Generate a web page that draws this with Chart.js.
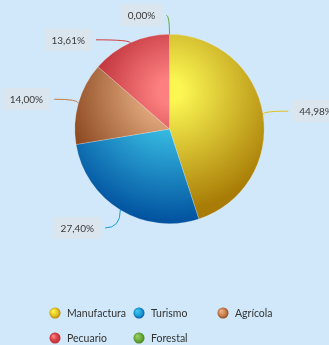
<!DOCTYPE html>
<html>
<head>
<meta charset="utf-8">
<script src="https://cdn.jsdelivr.net/npm/chart.js@4"></script>
<style>
  html, body { margin: 0; padding: 0; background: #d0e8f9; }
  canvas { display: block; }
</style>
</head>
<body>
<canvas id="chart" width="329" height="345"></canvas>
<script>
// data
const sectors = ['Manufactura', 'Turismo', 'Agrícola', 'Pecuario', 'Forestal'];
const shares = [44.98, 27.40, 14.00, 13.61, 0.00];

// colours: light (centre), dark (rim), flat (legend / leader)
const lightColors = ['#fbf652', '#3ec8ea', '#eab286', '#fd8080', '#9ad060'];
const darkColors = ['#a87c06', '#00509e', '#86421a', '#b82a34', '#3f7e22'];
const flatColors = ['#e3c21e', '#1b9ad6', '#c67c4a', '#d23c40', '#6aa83a'];
// where each slice's gradient holds its light / reaches its dark tone
const shadeStops = [[0.08, 0.9], [0.2, 1.0], [0.15, 0.85], [0.1, 0.65], [0.15, 1.0]];

// label callout offsets from the slice rim (px)
const calloutOffsets = [[53, -3], [-43, 18], [-52, -4], [-62, -3], [-28, -19]];

const FONT = '"Lato", "Open Sans", sans-serif';

function sliceGradient(context) {
  const chart = context.chart;
  const area = chart.chartArea;
  if (!area) return flatColors[context.dataIndex];
  const cx = (area.left + area.right) / 2 + 2;
  const cy = (area.top + area.bottom) / 2 - 38;
  const r = Math.min(area.right - area.left, area.bottom - area.top) / 2;
  const g = chart.ctx.createRadialGradient(cx, cy, 0, cx, cy, r * 1.4);
  const i = context.dataIndex;
  g.addColorStop(0, lightColors[i]);
  g.addColorStop(shadeStops[i][0], lightColors[i]);
  g.addColorStop(shadeStops[i][1], darkColors[i]);
  g.addColorStop(1, darkColors[i]);
  return g;
}

const callouts = {
  id: 'callouts',
  afterDatasetsDraw(chart) {
    const ctx = chart.ctx;
    const meta = chart.getDatasetMeta(0);
    ctx.save();
    ctx.font = '10px ' + FONT;
    meta.data.forEach((arc, i) => {
      const p = arc.getProps(['x', 'y', 'startAngle', 'endAngle', 'outerRadius'], true);
      const mid = (p.startAngle + p.endAngle) / 2;
      const ex = p.x + Math.cos(mid) * p.outerRadius;
      const ey = p.y + Math.sin(mid) * p.outerRadius;
      const tx = ex + calloutOffsets[i][0];
      const ty = ey + calloutOffsets[i][1];
      const text = shares[i].toFixed(2).replace('.', ',') + '%';
      const w = ctx.measureText(text).width + 14;
      const h = 22;
      const bx = tx - w / 2;
      const by = ty - h / 2;

      // leader
      const lx = tx > ex ? bx - 4 : bx + w + 4;
      ctx.strokeStyle = flatColors[i];
      ctx.lineWidth = 1;
      ctx.beginPath();
      ctx.moveTo(ex, ey);
      ctx.quadraticCurveTo(ex, ty, lx, ty);
      ctx.stroke();

      // box
      ctx.fillStyle = '#dbe5ee';
      ctx.fillRect(bx, by, w, h);
      ctx.fillStyle = '#3a3a3a';
      ctx.textAlign = 'center';
      ctx.textBaseline = 'middle';
      ctx.fillText(text, tx, ty + 0.5);
    });
    ctx.restore();
  }
};

const gridLegend = {
  id: 'gridLegend',
  afterDraw(chart) {
    const ctx = chart.ctx;
    const cols = 3, colW = 84, rowH = 25, left = 55, top = 313;
    ctx.save();
    ctx.font = '10.5px ' + FONT;
    ctx.textAlign = 'left';
    ctx.textBaseline = 'middle';
    chart.data.labels.forEach((label, i) => {
      const x = left + (i % cols) * colW;
      const y = top + Math.floor(i / cols) * rowH;
      const g = ctx.createRadialGradient(x - 2, y - 2, 0.5, x, y, 6);
      g.addColorStop(0, lightColors[i]);
      g.addColorStop(0.6, flatColors[i]);
      g.addColorStop(1, darkColors[i]);
      ctx.fillStyle = g;
      ctx.beginPath();
      ctx.arc(x, y, 5.5, 0, Math.PI * 2);
      ctx.fill();
      ctx.fillStyle = '#333333';
      ctx.fillText(label, x + 12, y + 1);
    });
    ctx.restore();
  }
};

new Chart(document.getElementById('chart'), {
  type: 'pie',
  data: {
    labels: sectors,
    datasets: [{
      data: shares,
      backgroundColor: sliceGradient,
      borderColor: 'rgba(255,255,255,0.35)',
      borderWidth: 0.6
    }]
  },
  options: {
    responsive: false,
    animation: false,
    layout: { padding: { top: 34, bottom: 121, left: 10, right: 0 } },
    plugins: {
      legend: { display: false },
      tooltip: { enabled: false }
    }
  },
  plugins: [callouts, gridLegend]
});
</script>
</body>
</html>
